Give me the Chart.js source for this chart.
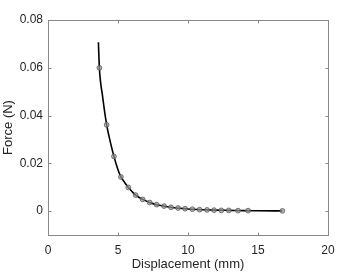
<!DOCTYPE html>
<html>
<head>
<meta charset="utf-8">
<script src="https://cdn.jsdelivr.net/npm/chart.js@4"></script>
<style>
  html, body { margin: 0; padding: 0; background: #fff; }
  #wrap { width: 363px; height: 273px; }
</style>
</head>
<body>
<div id="wrap"><canvas id="forceChart" width="363" height="273"></canvas></div>
<script>
// measured points (markers)
const dispMarkers = [3.67, 4.19, 4.71, 5.21, 5.74, 6.26, 6.76, 7.26, 7.76, 8.29, 8.79,
  9.29, 9.79, 10.31, 10.83, 11.36, 11.86, 12.38, 12.91, 13.57, 14.29, 16.74];
const forceMarkers = [0.0600, 0.0361, 0.0229, 0.0143, 0.0099, 0.0067, 0.0049, 0.0036, 0.0027,
  0.0021, 0.0016, 0.0013, 0.0010, 0.0008, 0.0006, 0.0005, 0.0004, 0.0003, 0.0003, 0.0002, 0.0002, 0.0001];

// fitted curve
const dispCurve = [3.6, 3.67, 3.9, 4.19, 4.45, 4.71, 4.95, 5.21, 5.5, 5.74, 6.0, 6.26, 6.76,
  7.26, 7.76, 8.29, 9.0, 10.0, 11.0, 12.0, 13.0, 14.0, 15.0, 16.74];
const forceCurve = [0.0707, 0.0600, 0.0480, 0.0361, 0.0290, 0.0229, 0.0182, 0.0143, 0.0118,
  0.0099, 0.0082, 0.0067, 0.0049, 0.0036, 0.0027, 0.0021, 0.0014, 0.0009, 0.0006, 0.0004,
  0.0003, 0.0002, 0.00015, 0.0001];

const xTicks = [0, 5, 10, 15, 20];
const yTicks = [0, 0.02, 0.04, 0.06, 0.08];

const toXY = (xs, ys) => xs.map((x, i) => ({ x: x, y: ys[i] }));

const axisColor = "#8a8a8a";
const textColor = "#262626";

// box around the plot with inward ticks, matlab style
const boxPlugin = {
  id: "box",
  afterDraw(chart) {
    const { ctx, chartArea: a, scales } = chart;
    ctx.save();
    ctx.strokeStyle = axisColor;
    ctx.lineWidth = 1;
    const L = Math.round(a.left) + 0.5, R = Math.round(a.right) + 0.5;
    const T = Math.round(a.top) + 0.5, B = Math.round(a.bottom) + 0.5;
    ctx.strokeRect(L, T, R - L, B - T);
    ctx.beginPath();
    xTicks.forEach(v => {
      const px = Math.round(scales.x.getPixelForValue(v)) + 0.5;
      ctx.moveTo(px, B); ctx.lineTo(px, B - 3);
      ctx.moveTo(px, T); ctx.lineTo(px, T + 3);
    });
    yTicks.concat([-0.01]).forEach(v => {
      const py = Math.round(scales.y.getPixelForValue(v)) + 0.5;
      ctx.moveTo(L, py); ctx.lineTo(L + 3, py);
      ctx.moveTo(R, py); ctx.lineTo(R - 3, py);
    });
    ctx.stroke();
    ctx.restore();
  }
};

new Chart(document.getElementById("forceChart"), {
  type: "scatter",
  data: {
    datasets: [
      {
        data: toXY(dispCurve, forceCurve),
        showLine: true,
        borderColor: "#000",
        borderWidth: 1.6,
        pointRadius: 0,
        cubicInterpolationMode: "monotone",
        order: 2
      },
      {
        data: toXY(dispMarkers, forceMarkers),
        showLine: false,
        pointRadius: 2.4,
        pointBackgroundColor: "rgba(150,150,150,0.7)",
        pointBorderColor: "#5a5a5a",
        pointBorderWidth: 0.8,
        order: 1
      }
    ]
  },
  plugins: [boxPlugin],
  options: {
    responsive: false,
    animation: false,
    layout: { padding: { left: 0, right: 35, top: 20, bottom: 0 } },
    plugins: { legend: { display: false }, tooltip: { enabled: false } },
    scales: {
      x: {
        type: "linear",
        min: 0,
        max: 20,
        afterBuildTicks: s => { s.ticks = xTicks.map(v => ({ value: v })); },
        afterFit: s => { s.height = 38; },
        grid: { display: false },
        border: { display: false },
        ticks: {
          color: textColor,
          font: { family: "Liberation Sans", size: 12 },
          padding: 0
        },
        title: {
          display: true,
          text: "Displacement (mm)",
          color: textColor,
          font: { family: "Liberation Sans", size: 13 },
          padding: { top: 0, bottom: 1 }
        }
      },
      y: {
        type: "linear",
        min: -0.01,
        max: 0.08,
        afterBuildTicks: s => { s.ticks = yTicks.map(v => ({ value: v })); },
        afterFit: s => { s.width = 48; },
        grid: { display: false, drawTicks: false },
        border: { display: false },
        ticks: {
          color: textColor,
          font: { family: "Liberation Sans", size: 12 },
          padding: 5,
          callback: v => (v === 0 ? "0" : v.toFixed(2))
        },
        title: {
          display: true,
          text: "Force (N)",
          color: textColor,
          font: { family: "Liberation Sans", size: 13 },
          padding: { top: 1, bottom: 0 }
        }
      }
    }
  }
});
</script>
</body>
</html>
